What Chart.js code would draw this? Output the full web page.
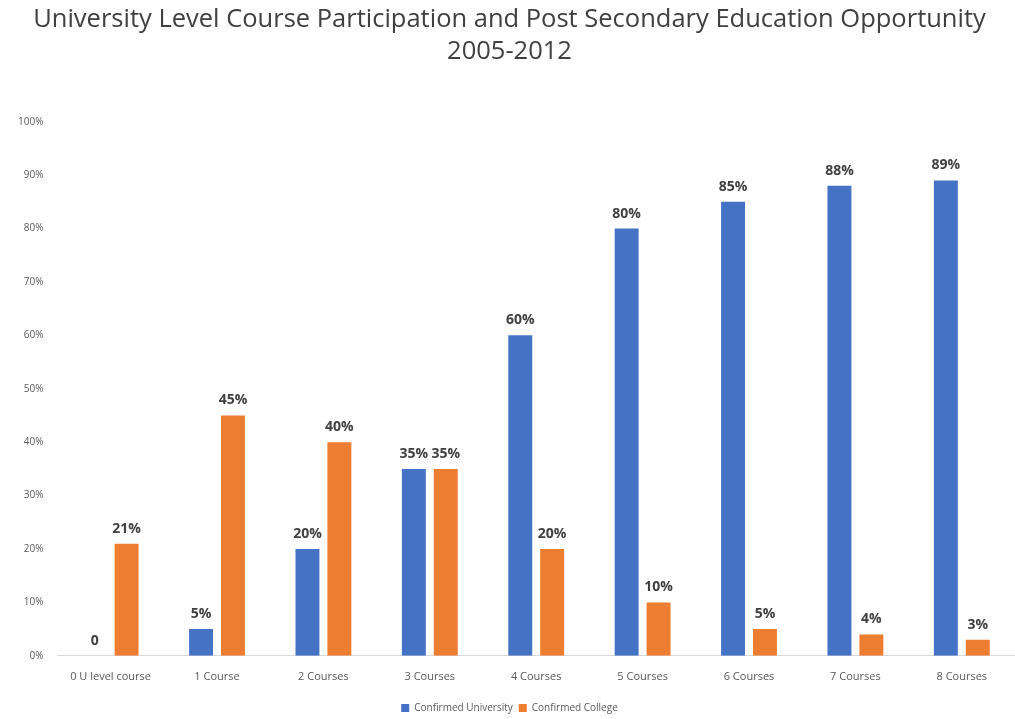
<!DOCTYPE html>
<html>
<head>
<meta charset="utf-8">
<script src="https://cdn.jsdelivr.net/npm/chart.js@4/dist/chart.umd.min.js"></script>
<style>
  html, body { margin: 0; padding: 0; background: #fff; }
  #wrap { width: 1015px; height: 719px; }
</style>
</head>
<body>
<div id="wrap"><canvas id="chart"></canvas></div>
<script>
const categories = ['0 U level course', '1 Course', '2 Courses', '3 Courses', '4 Courses',
  '5 Courses', '6 Courses', '7 Courses', '8 Courses'];
const university = [0, 5, 20, 35, 60, 80, 85, 88, 89];
const college = [21, 45, 40, 35, 20, 10, 5, 4, 3];
const yTicks = [0, 10, 20, 30, 40, 50, 60, 70, 80, 90, 100];

const FONT = "'Open Sans', 'Liberation Sans', sans-serif";

// value labels above each bar
const barLabels = {
  id: 'barLabels',
  afterDatasetsDraw(chart) {
    const ctx = chart.ctx;
    ctx.save();
    ctx.font = 'bold 14px ' + FONT;
    ctx.fillStyle = '#404040';
    ctx.textAlign = 'center';
    ctx.textBaseline = 'bottom';
    chart.data.datasets.forEach((ds, i) => {
      chart.getDatasetMeta(i).data.forEach((bar, j) => {
        const v = ds.data[j];
        const txt = v === 0 ? '0' : v + '%';
        ctx.fillText(txt, bar.x, bar.y - 8);
      });
    });
    ctx.restore();
  }
};

new Chart(document.getElementById('chart'), {
  type: 'bar',
  data: {
    labels: categories,
    datasets: [
      { label: 'Confirmed University', data: university, backgroundColor: '#4472c4',
        categoryPercentage: 0.6, barPercentage: 0.75 },
      { label: 'Confirmed College', data: college, backgroundColor: '#ed7d31',
        categoryPercentage: 0.6, barPercentage: 0.75 }
    ]
  },
  options: {
    responsive: true,
    maintainAspectRatio: false,
    animation: false,
    layout: { padding: { left: 4, right: 0, top: 0, bottom: -4 } },
    plugins: {
      title: {
        display: true,
        text: ['University Level Course Participation and Post Secondary Education Opportunity', '2005-2012'],
        color: '#404040',
        font: { family: FONT, size: 25.5, weight: 'normal', lineHeight: 1.25 },
        padding: { top: 4, bottom: 54 }
      },
      legend: {
        position: 'bottom',
        labels: {
          color: '#595959',
          font: { family: FONT, size: 10 },
          boxWidth: 8, boxHeight: 8, padding: 6
        }
      },
      tooltip: { enabled: false }
    },
    scales: {
      x: {
        grid: { display: false, drawTicks: false },
        border: { color: '#d9d9d9' },
        ticks: { color: '#595959', font: { family: FONT, size: 11 }, padding: 14, maxRotation: 0 }
      },
      y: {
        min: 0, max: 100,
        afterBuildTicks: (axis) => { axis.ticks = yTicks.map(v => ({ value: v })); },
        grid: { display: false, drawTicks: false },
        border: { display: false },
        ticks: {
          color: '#595959', font: { family: FONT, size: 10 }, padding: 14,
          callback: (v) => v + '%'
        }
      }
    }
  },
  plugins: [barLabels]
});
</script>
</body>
</html>
